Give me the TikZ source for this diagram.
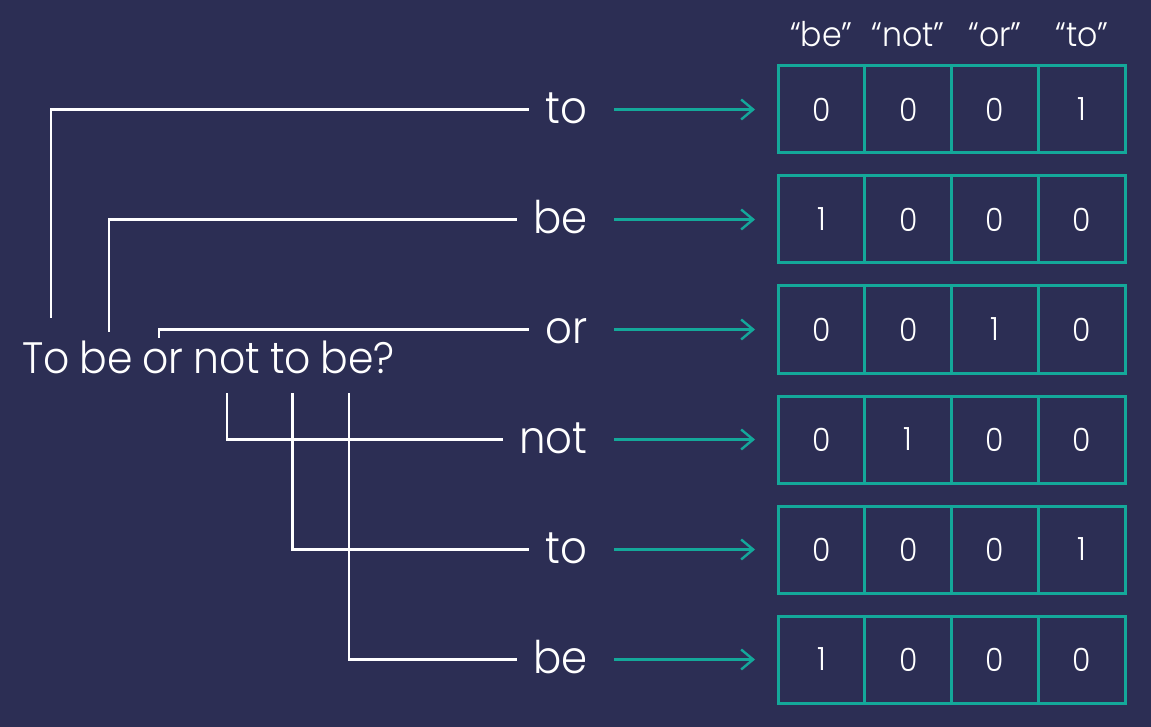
\documentclass[tikz,border=0pt]{standalone}
\usepackage{fontspec}
\setmainfont{Poppins}[UprightFont=* Light, FakeStretch=0.93]
\usetikzlibrary{positioning, arrows.meta}
\definecolor{bgnavy}{RGB}{44,46,84}
\definecolor{tealc}{RGB}{20,168,154}

\begin{document}
\begin{tikzpicture}[x=0.5pt, y=-0.5pt,
    cell/.style={rectangle, draw=tealc, line width=1.5pt, minimum width=43.4pt, minimum height=43.5pt, inner sep=0pt, outer sep=0pt, text=white, font=\fontsize{16}{18}\selectfont},
    word/.style={text=white, font=\fontsize{22.5}{26}\selectfont, text height=14pt, text depth=0pt, inner xsep=8pt, inner ysep=0pt},
    sent/.style={text=white, font=\fontsize{22}{26}\selectfont, text height=15.5pt, text depth=0pt, inner sep=0pt},
    hdr/.style={text=white, font=\fontsize{17}{19}\selectfont, text height=12pt, text depth=0pt, inner sep=0pt},
    wire/.style={white, line width=1.2pt},
    arr/.style={-{Straight Barb[length=6pt, width=10pt]}, tealc, line width=1.2pt, shorten <=5pt, shorten >=11.5pt}]
    \fill[bgnavy] (0,0) rectangle (1151,727);

    % one-hot rows
    \node[cell] (c1_1) at (821.4,109.5) {0};
    \node[cell, right=0pt of c1_1] (c1_2) {0};
    \node[cell, right=0pt of c1_2] (c1_3) {0};
    \node[cell, right=0pt of c1_3] (c1_4) {1};

    \node[cell, below=11.5pt of c1_1] (c2_1) {1};
    \node[cell, right=0pt of c2_1] (c2_2) {0};
    \node[cell, right=0pt of c2_2] (c2_3) {0};
    \node[cell, right=0pt of c2_3] (c2_4) {0};

    \node[cell, below=11.5pt of c2_1] (c3_1) {0};
    \node[cell, right=0pt of c3_1] (c3_2) {0};
    \node[cell, right=0pt of c3_2] (c3_3) {1};
    \node[cell, right=0pt of c3_3] (c3_4) {0};

    \node[cell, below=11.5pt of c3_1] (c4_1) {0};
    \node[cell, right=0pt of c4_1] (c4_2) {1};
    \node[cell, right=0pt of c4_2] (c4_3) {0};
    \node[cell, right=0pt of c4_3] (c4_4) {0};

    \node[cell, below=11.5pt of c4_1] (c5_1) {0};
    \node[cell, right=0pt of c5_1] (c5_2) {0};
    \node[cell, right=0pt of c5_2] (c5_3) {0};
    \node[cell, right=0pt of c5_3] (c5_4) {1};

    \node[cell, below=11.5pt of c5_1] (c6_1) {1};
    \node[cell, right=0pt of c6_1] (c6_2) {0};
    \node[cell, right=0pt of c6_2] (c6_3) {0};
    \node[cell, right=0pt of c6_3] (c6_4) {0};

    % column headers
    \node[hdr, above=9.5pt of c1_1] (h_be) {“be”};
    \node[hdr, above=9.5pt of c1_2] (h_not) {“not”};
    \node[hdr, above=9.5pt of c1_3] (h_or) {“or”};
    \node[hdr, above=9.5pt of c1_4] (h_to) {“to”};

    % tokens
    \node[word, left=87pt of c1_1] (w1) {to};
    \node[word, left=87pt of c2_1] (w2) {be};
    \node[word, left=87pt of c3_1] (w3) {or};
    \node[word, left=87pt of c4_1] (w4) {not};
    \node[word, left=87pt of c5_1] (w5) {to};
    \node[word, left=87pt of c6_1] (w6) {be};

    % sentence
    \node[sent, anchor=base west] (s1) at (22,373) {To};
    \node[sent, base right=4.5pt of s1] (s2) {be};
    \node[sent, base right=4.5pt of s2] (s3) {or};
    \node[sent, base right=4.5pt of s3] (s4) {not};
    \node[sent, base right=4.5pt of s4] (s5) {to};
    \node[sent, base right=4.5pt of s5] (s6) {be?};

    \draw[wire] ([xshift=2.5pt, yshift=12pt]s1.north) |- (w1.west);
    \draw[wire] ([xshift=1.5pt, yshift=5pt]s2.north) |- (w2.west);
    \draw[wire] ([xshift=-2pt, yshift=2pt]s3.north) |- (w3.west);
    \draw[wire] ([yshift=-10pt]s4.south) |- (w4.west);
    \draw[wire] ([xshift=1pt, yshift=-10pt]s5.south) |- (w5.west);
    \draw[wire] ([xshift=-4.5pt, yshift=-10pt]s6.south) |- (w6.west);

    \draw[arr] (w1.east) -- (c1_1.west);
    \draw[arr] (w2.east) -- (c2_1.west);
    \draw[arr] (w3.east) -- (c3_1.west);
    \draw[arr] (w4.east) -- (c4_1.west);
    \draw[arr] (w5.east) -- (c5_1.west);
    \draw[arr] (w6.east) -- (c6_1.west);
\end{tikzpicture}
\end{document}
